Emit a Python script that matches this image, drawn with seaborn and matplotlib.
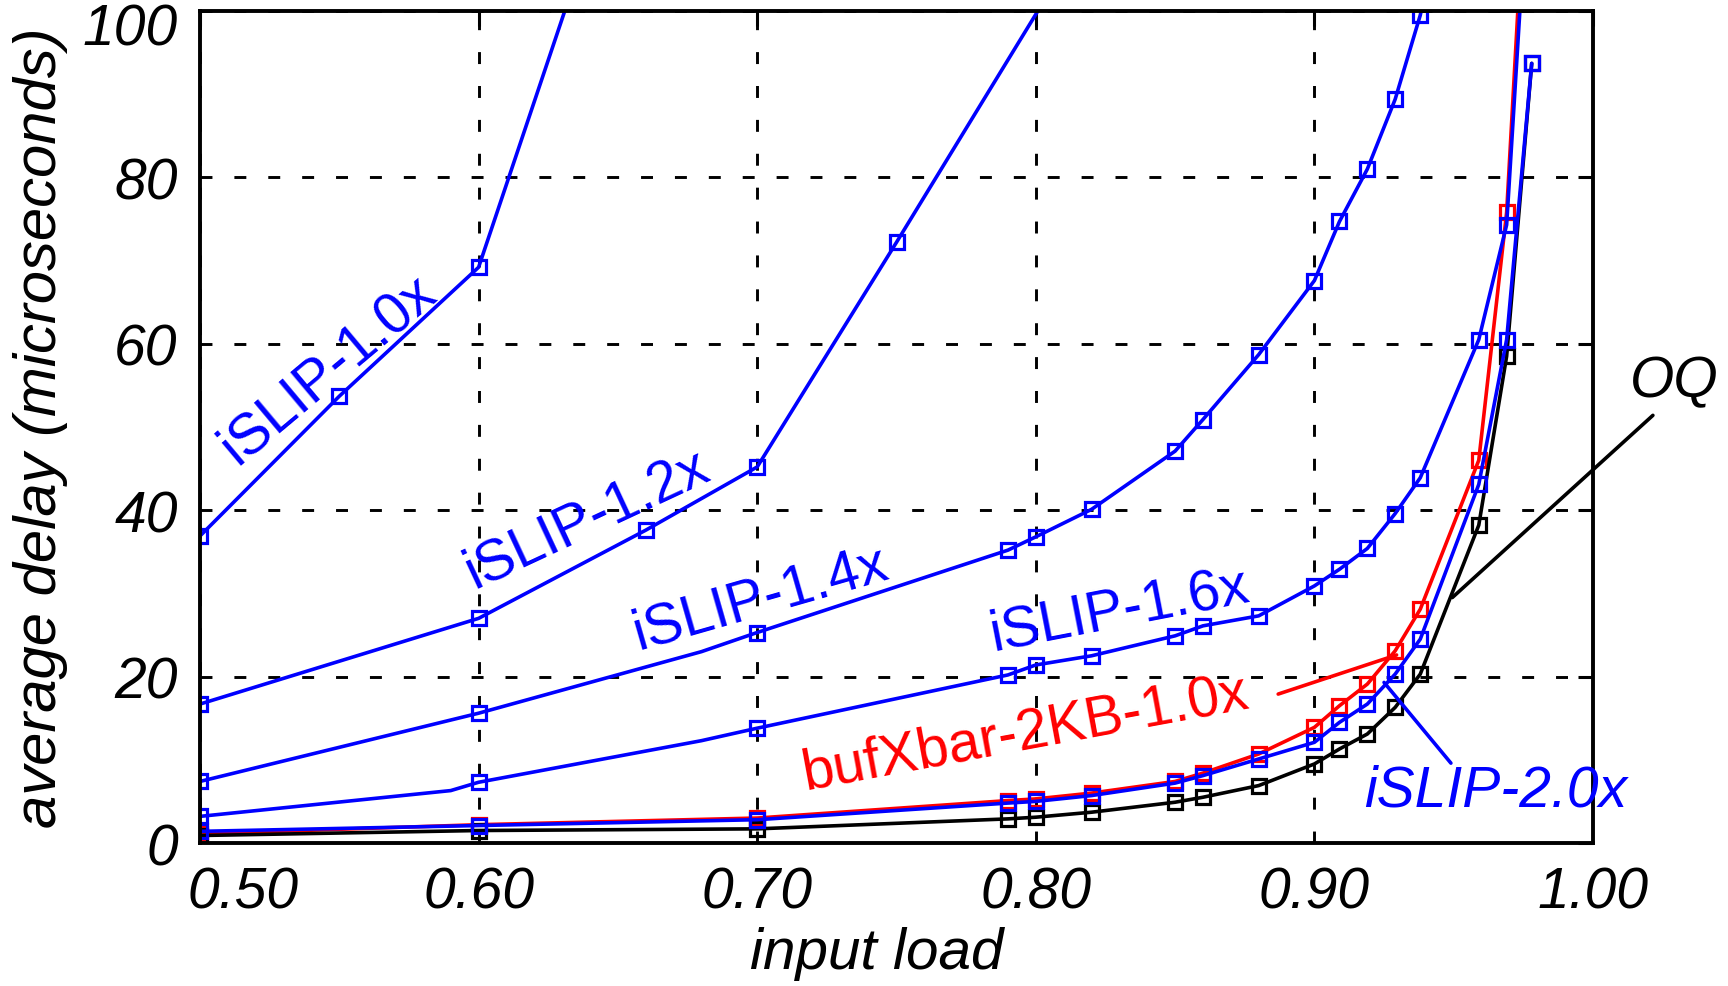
import matplotlib
matplotlib.use("Agg")
import matplotlib.pyplot as plt
import matplotlib.transforms as mtransforms
import seaborn as sns

# values (input load, average delay in microseconds)
load_10 = [0.50, 0.55, 0.60, 0.65]
delay_10 = [36.9, 53.7, 69.2, 119.0]

load_12 = [0.50, 0.60, 0.66, 0.70, 0.75, 0.85]
delay_12 = [16.7, 27.0, 37.6, 45.2, 72.2, 127.0]

load_14 = [0.50, 0.60, 0.68, 0.70, 0.79, 0.80, 0.82, 0.85, 0.86, 0.88,
           0.90, 0.909, 0.919, 0.929, 0.938, 0.948]
delay_14 = [7.4, 15.6, 23.0, 25.3, 35.2, 36.8, 40.1, 47.1, 50.9, 58.7,
            67.6, 74.7, 81.0, 89.4, 99.5, 115.0]
nomark_14 = [2]

load_16 = [0.50, 0.59, 0.60, 0.68, 0.70, 0.79, 0.80, 0.82, 0.85, 0.86, 0.88,
           0.90, 0.909, 0.919, 0.929, 0.938, 0.959, 0.969, 0.978]
delay_16 = [3.2, 6.3, 7.3, 12.3, 13.8, 20.2, 21.4, 22.5, 24.9, 26.1, 27.3,
            30.9, 32.9, 35.4, 39.6, 43.9, 60.5, 74.3, 123.0]
nomark_16 = [1, 3]

load_low = [0.50, 0.60, 0.70, 0.79, 0.80, 0.82, 0.85, 0.86, 0.88,
            0.90, 0.909, 0.919, 0.929, 0.938, 0.959, 0.969, 0.978]
delay_20 = [1.4, 2.1, 2.8, 4.8, 5.0, 5.7, 7.2, 8.1, 10.1,
            12.1, 14.5, 16.7, 20.3, 24.5, 43.1, 60.5, 93.7]
delay_buf = [1.1, 2.2, 3.0, 5.1, 5.3, 6.0, 7.4, 8.4, 10.7,
             13.9, 16.5, 19.1, 23.1, 28.1, 46.0, 75.8, 130.0]
delay_oq = [0.9, 1.5, 1.7, 2.9, 3.1, 3.7, 4.9, 5.5, 6.9,
            9.5, 11.3, 13.1, 16.3, 20.3, 38.2, 58.5, 93.7]

x_ticks = [0.50, 0.60, 0.70, 0.80, 0.90, 1.00]
y_ticks = [0, 20, 40, 60, 80, 100]

BLUE = "#0000ff"
RED = "#ff0000"
BLACK = "#000000"

sns.set_theme(style="white")
plt.rcParams["font.family"] = ["Liberation Sans", "DejaVu Sans"]
plt.rcParams["lines.scale_dashes"] = False

fig = plt.figure(figsize=(17.28, 9.87), dpi=100)
ax = fig.add_axes([200 / 1728, 1 - 844 / 987, 1393 / 1728, 832 / 987])


def draw(x, y, color, nomark=()):
    every = [i for i in range(len(x)) if i not in nomark]
    sns.lineplot(x=x, y=y, ax=ax, color=color, lw=2.6, marker="s",
                 markersize=10.5, markerfacecolor="none",
                 markeredgecolor=color, markeredgewidth=2.3,
                 markevery=every, sort=False, estimator=None)


draw(load_low, delay_buf, RED)
draw(load_low, delay_oq, BLACK)
draw(load_low, delay_20, BLUE)
draw(load_16, delay_16, BLUE, nomark_16)
draw(load_14, delay_14, BLUE, nomark_14)
draw(load_12, delay_12, BLUE)
draw(load_10, delay_10, BLUE)

ax.set_xlim(0.5, 1.0)
ax.set_ylim(0, 100)
ax.set_xticks(x_ticks)
ax.set_xticklabels([f"{v:.2f}" for v in x_ticks])
ax.set_yticks(y_ticks)
ax.set_yticklabels([str(v) for v in y_ticks])
ax.grid(True, color="black", linestyle=(0, (8.6, 15.8)), linewidth=2.1)
ax.set_axisbelow(True)
for s in ax.spines.values():
    s.set_visible(True)
    s.set_color("black")
    s.set_linewidth(2.8)
ax.tick_params(direction="in", length=11, width=2.2, top=True, right=True,
               labelsize=41, pad=16, colors="black")
for lbl in ax.get_xticklabels() + ax.get_yticklabels():
    lbl.set_fontstyle("italic")
xl = ax.get_xticklabels()
xl[0].set_ha("left")
xl[0].set_transform(xl[0].get_transform() +
                    mtransforms.ScaledTranslation(-9 / 72, 0, fig.dpi_scale_trans))
yl = ax.get_yticklabels()
yl[-1].set_transform(yl[-1].get_transform() +
                     mtransforms.ScaledTranslation(0, -9 / 72, fig.dpi_scale_trans))

ax.set_xlabel("input load", fontsize=42, fontstyle="italic", color="black")
ax.set_ylabel("average delay (microseconds)", fontsize=43, fontstyle="italic",
              color="black")
ax.xaxis.set_label_coords(0.486, -0.10)
ax.yaxis.set_label_coords(-0.095, 0.5)

# curve labels
labels = [
    ("iSLIP-1.0x", 0.546, 57.0, 40, BLUE, "normal"),
    ("iSLIP-1.2x", 0.639, 39.0, 25, BLUE, "normal"),
    ("iSLIP-1.4x", 0.701, 29.5, 16, BLUE, "normal"),
    ("iSLIP-1.6x", 0.830, 28.0, 11, BLUE, "normal"),
    ("bufXbar-2KB-1.0x", 0.796, 13.3, 10.5, RED, "normal"),
    ("iSLIP-2.0x", 0.965, 6.3, 0, BLUE, "italic"),
    ("OQ", 1.029, 55.5, 0, BLACK, "italic"),
]
for txt, tx, ty, rot, col, sty in labels:
    ax.text(tx, ty, txt, color=col, fontsize=41, rotation=rot,
            rotation_mode="anchor", ha="center", va="center",
            fontstyle=sty, clip_on=False)

# leader lines from labels to curves
leaders = [
    ((0.887, 17.9), (0.9295, 22.6), RED),
    ((0.949, 9.6), (0.925, 19.3), BLUE),
    ((1.0215, 51.4), (0.9495, 29.5), BLACK),
]
for start, end, col in leaders:
    ax.annotate("", xy=end, xytext=start, annotation_clip=False,
                arrowprops=dict(arrowstyle="-", color=col, lw=2.6,
                                shrinkA=0, shrinkB=0))

fig.savefig("out.png", dpi=100)
